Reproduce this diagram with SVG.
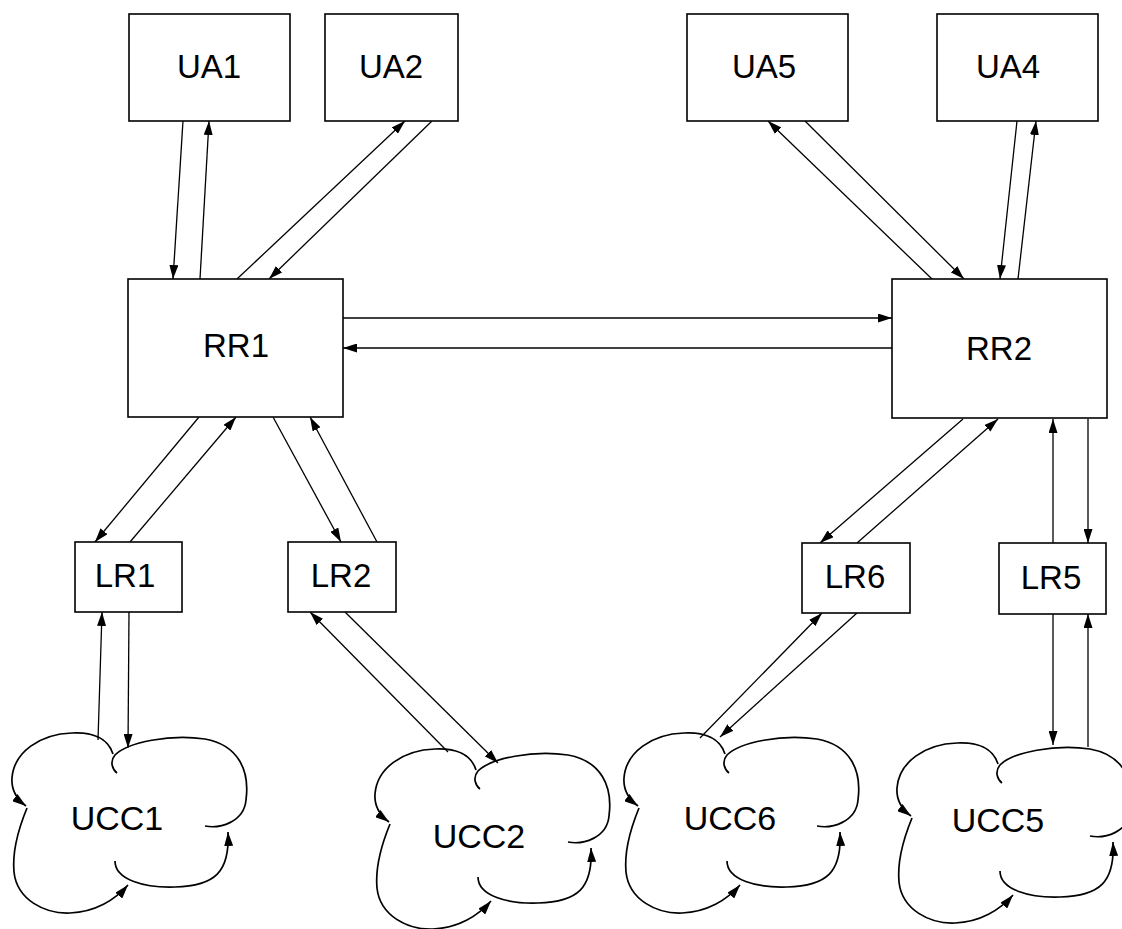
<svg xmlns="http://www.w3.org/2000/svg" xmlns:xlink="http://www.w3.org/1999/xlink" width="1122" height="929" viewBox="0 0 1122 929">
<style>
.box{fill:#fff;stroke:#000;stroke-width:1.6}
.lbl{font-family:"Liberation Sans",Arial,sans-serif;font-size:33px;fill:#000;text-anchor:middle}
.ulbl{font-family:"Liberation Sans",Arial,sans-serif;font-size:34px;fill:#000;text-anchor:middle}
.conn line{stroke:#000;stroke-width:1.3;marker-end:url(#ah)}
.cl{fill:none;stroke:#000;stroke-width:1.7}
.cla{fill:none;stroke:#000;stroke-width:1.7;marker-end:url(#ah)}
</style>
<defs>
<marker id="ah" viewBox="0 0 14 9" refX="14" refY="4.5" markerWidth="14" markerHeight="9" orient="auto" markerUnits="userSpaceOnUse">
<path d="M0,0 L14,4.5 L0,9 z" fill="#000"/>
</marker>
<g id="cloud">
<path class="cl" d="M205,826 C220,829 244,822 246,800 C250,770 238,745 205,739 C170,734 128,742 115,755 C109,762 113,770 117,773"/>
<path class="cla" d="M113,754 C108,738 92,732 72,733 C40,734 14,752 12,778 C11,792 18,800 26,806"/>
<path class="cla" d="M27,808 C20,825 12,850 14,872 C17,900 45,914 70,913 C95,912 115,900 128,885"/>
<path class="cla" d="M115,861 C115,880 145,888 175,887 C215,886 230,872 228,832"/>
</g>
</defs>
<rect width="1122" height="929" fill="#fff"/>
<g class="conn" id="connectors">
<line x1="183" y1="121" x2="173" y2="279"/>
<line x1="200" y1="279" x2="209" y2="121"/>
<line x1="237" y1="279" x2="405" y2="121"/>
<line x1="432" y1="121" x2="269" y2="279"/>
<line x1="932" y1="279" x2="768" y2="121"/>
<line x1="805" y1="121" x2="964" y2="279"/>
<line x1="1017" y1="121" x2="1000" y2="279"/>
<line x1="1018" y1="279" x2="1036" y2="121"/>
<line x1="343" y1="318" x2="892" y2="318"/>
<line x1="892" y1="348" x2="343" y2="348"/>
<line x1="199" y1="417" x2="95" y2="542"/>
<line x1="130" y1="542" x2="236" y2="417"/>
<line x1="273" y1="417" x2="341" y2="542"/>
<line x1="377" y1="542" x2="310" y2="417"/>
<line x1="98" y1="740" x2="102" y2="612"/>
<line x1="129" y1="612" x2="128" y2="748"/>
<line x1="448" y1="752" x2="310" y2="612"/>
<line x1="345" y1="612" x2="498" y2="763"/>
<line x1="963" y1="419" x2="820" y2="543"/>
<line x1="857" y1="543" x2="998" y2="419"/>
<line x1="1053" y1="543" x2="1053" y2="419"/>
<line x1="1088" y1="419" x2="1088" y2="543"/>
<line x1="700" y1="738" x2="822" y2="613"/>
<line x1="857" y1="613" x2="720" y2="737"/>
<line x1="1053" y1="614" x2="1053" y2="745"/>
<line x1="1088" y1="747" x2="1088" y2="614"/>
</g>
<g id="UA1"><rect class="box" x="129" y="14" width="161" height="107"/><text class="lbl" x="209" y="78">UA1</text></g>
<g id="UA2"><rect class="box" x="325" y="14" width="133" height="107"/><text class="lbl" x="391" y="78">UA2</text></g>
<g id="UA5"><rect class="box" x="687" y="14" width="161" height="107"/><text class="lbl" x="764" y="78">UA5</text></g>
<g id="UA4"><rect class="box" x="937" y="14" width="161" height="107"/><text class="lbl" x="1008" y="78">UA4</text></g>
<g id="RR1"><rect class="box" x="128" y="279" width="215" height="138"/><text class="lbl" x="236" y="357">RR1</text></g>
<g id="RR2"><rect class="box" x="892" y="279" width="215" height="139"/><text class="lbl" x="999" y="360">RR2</text></g>
<g id="LR1"><rect class="box" x="75" y="542" width="107" height="70"/><text class="lbl" x="125" y="587">LR1</text></g>
<g id="LR2"><rect class="box" x="288" y="542" width="108" height="70"/><text class="lbl" x="341" y="587">LR2</text></g>
<g id="LR6"><rect class="box" x="802" y="543" width="108" height="70"/><text class="lbl" x="855" y="588">LR6</text></g>
<g id="LR5"><rect class="box" x="999" y="543" width="107" height="71"/><text class="lbl" x="1051" y="589">LR5</text></g>
<g id="UCC1"><use xlink:href="#cloud" href="#cloud"/><text class="ulbl" x="117" y="830">UCC1</text></g>
<g id="UCC2"><use xlink:href="#cloud" href="#cloud" transform="translate(363,16)"/><text class="ulbl" x="479" y="848">UCC2</text></g>
<g id="UCC6"><use xlink:href="#cloud" href="#cloud" transform="translate(612,0)"/><text class="ulbl" x="730" y="830">UCC6</text></g>
<g id="UCC5"><use xlink:href="#cloud" href="#cloud" transform="translate(885,10)"/><text class="ulbl" x="998" y="832">UCC5</text></g>
</svg>
